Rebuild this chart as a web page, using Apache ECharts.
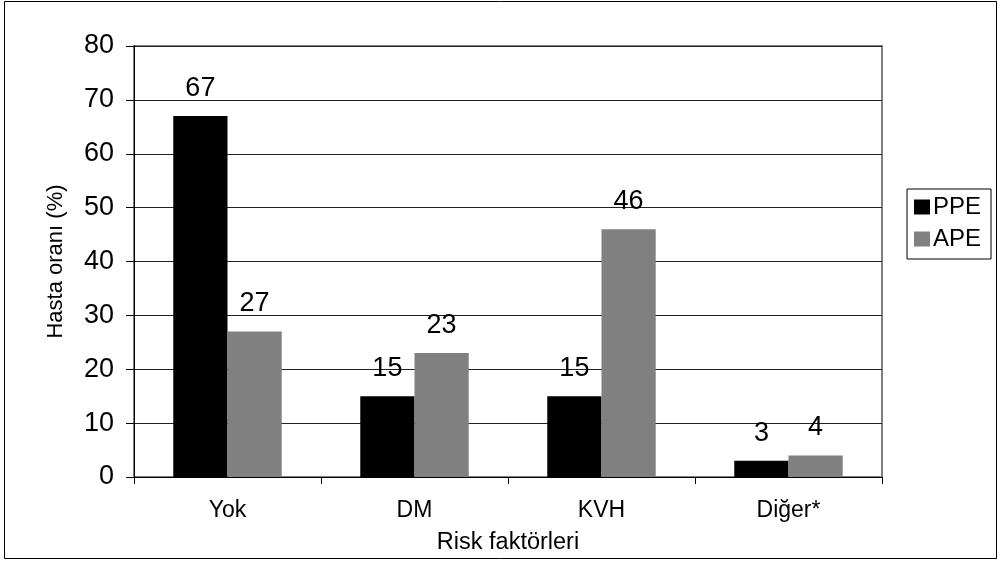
<!DOCTYPE html>
<html>
<head>
<meta charset="utf-8">
<script src="https://cdn.jsdelivr.net/npm/echarts@6/dist/echarts.min.js"></script>
<style>
  html, body { margin: 0; padding: 0; background: #fff; }
  #chart { width: 1000px; height: 563px; }
</style>
</head>
<body>
<div id="chart"></div>
<script>
// Risk factor categories and patient percentages per group
const categories = ['Yok', 'DM', 'KVH', 'Diğer*'];
const ppeValues = [67, 15, 15, 3];
const apeValues = [27, 23, 46, 4];
const seriesNames = ['PPE', 'APE'];

const FONT = '"Liberation Sans", Arial, sans-serif';

const chart = echarts.init(document.getElementById('chart'), null, { renderer: 'canvas' });

const valueLabel = {
  show: true,
  position: 'top',
  distance: 14,
  color: '#000',
  fontFamily: FONT,
  fontSize: 27
};

chart.setOption({
  animation: false,
  backgroundColor: '#fff',
  textStyle: { fontFamily: FONT, color: '#000' },
  graphic: [{
    type: 'rect',
    shape: { x: 4.5, y: 1.5, width: 992, height: 557 },
    style: { fill: 'none', stroke: '#000', lineWidth: 1 },
    silent: true,
    z: -1
  }],
  grid: {
    left: 134, top: 46, right: 118, bottom: 86,
    show: true,
    borderColor: '#808080',
    borderWidth: 2,
    backgroundColor: 'transparent'
  },
  legend: {
    orient: 'vertical',
    left: 907, top: 189,
    data: seriesNames,
    icon: 'rect',
    itemWidth: 16, itemHeight: 15,
    itemGap: 8,
    padding: [6, 10, 8, 7],
    borderColor: '#000',
    borderWidth: 1,
    backgroundColor: '#fff',
    textStyle: { fontFamily: FONT, fontSize: 24, color: '#000', padding: [0, 0, 0, -2] }
  },
  xAxis: {
    type: 'category',
    data: categories,
    name: 'Risk faktörleri',
    nameLocation: 'middle',
    nameGap: 54,
    nameTextStyle: { fontFamily: FONT, fontSize: 23.5, color: '#000' },
    axisLine: { show: true, lineStyle: { color: '#000', width: 1 } },
    axisTick: { show: true, alignWithLabel: false, length: 7, lineStyle: { color: '#000' } },
    axisLabel: { fontFamily: FONT, fontSize: 23, color: '#000', margin: 22 }
  },
  yAxis: {
    type: 'value',
    min: 0, max: 80, interval: 10,
    name: 'Hasta oranı (%)',
    nameLocation: 'middle',
    nameGap: 67,
    nameTextStyle: { fontFamily: FONT, fontSize: 22, color: '#000' },
    axisLine: { show: true, lineStyle: { color: '#000', width: 1 } },
    axisTick: { show: true, inside: false, length: 8, lineStyle: { color: '#000' } },
    axisLabel: { fontFamily: FONT, fontSize: 27, color: '#000', margin: 20 },
    splitLine: { show: true, lineStyle: { color: '#222', width: 1 } }
  },
  series: [
    {
      name: seriesNames[0],
      type: 'bar',
      data: ppeValues,
      barGap: '0%',
      barCategoryGap: '42%',
      itemStyle: { color: '#000' },
      label: valueLabel
    },
    {
      name: seriesNames[1],
      type: 'bar',
      data: apeValues,
      itemStyle: { color: '#808080' },
      label: valueLabel
    }
  ]
});
</script>
</body>
</html>
